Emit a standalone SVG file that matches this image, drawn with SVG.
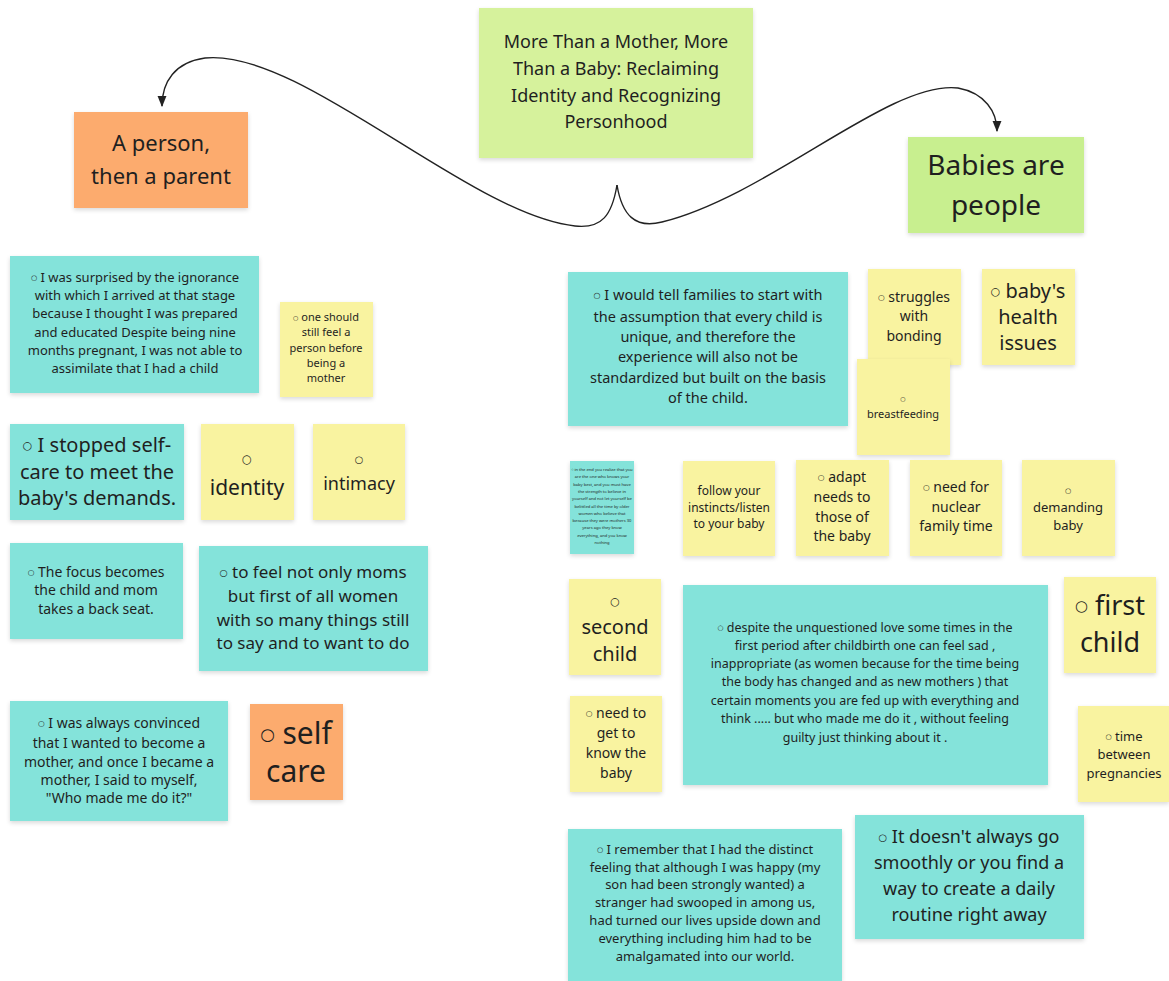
<svg xmlns="http://www.w3.org/2000/svg" width="1169" height="981" viewBox="0 0 1169 981">
<defs>
<filter id="sh" x="-10%" y="-10%" width="120%" height="130%"><feDropShadow dx="0" dy="2" stdDeviation="2" flood-color="#000" flood-opacity="0.15"/></filter>
<marker id="ah" viewBox="0 0 10 10" refX="9" refY="5" markerWidth="8" markerHeight="8" orient="auto-start-reverse"><path d="M0,1 L10,5 L0,9 z" fill="#222"/></marker>
<style>
.n{filter:url(#sh)}
.c{fill:#84e3da}
.y{fill:#f9f3a0}
.o{fill:#fcab6e}
.g{fill:#d6f29c}
.gg{fill:#c8ef8f}
text{font-family:"Noto Sans","Open Sans","DejaVu Sans",sans-serif;fill:#1f1f1f;text-anchor:middle}
.b{font-family:"DejaVu Sans",sans-serif;font-size:0.55em;baseline-shift:0.25em}
.bs{font-family:"DejaVu Sans",sans-serif;font-size:0.55em}
.e{fill:none;stroke:#222;stroke-width:1.4}
</style>
</defs>
<rect width="1169" height="981" fill="#ffffff"/>
<g id="connectors">
<path class="e" d="M617,185 C612,215 602,229 575,226 C470,215 300,48 205,58 C175,62 162,82 162,106" marker-end="url(#ah)"/>
<path class="e" d="M617,185 C622,215 635,229 662,222 C770,195 890,80 958,88 C985,93 997,112 997,131" marker-end="url(#ah)"/>
</g>
<g id="title"><rect class="n g" x="479" y="8" width="274" height="150"/>
<text font-size="18"><tspan x="616" y="48">More Than a Mother, More</tspan><tspan x="616" y="75">Than a Baby: Reclaiming</tspan><tspan x="616" y="102">Identity and Recognizing</tspan><tspan x="616" y="128">Personhood</tspan></text></g>
<g id="person-parent"><rect class="n o" x="74" y="112" width="174" height="96"/>
<text font-size="22"><tspan x="161" y="151">A person,</tspan><tspan x="161" y="184">then a parent</tspan></text></g>
<g id="babies-people"><rect class="n gg" x="908" y="137" width="176" height="96"/>
<text font-size="28"><tspan x="996" y="175">Babies are</tspan><tspan x="996" y="215">people</tspan></text></g>

<g id="n1"><rect class="n c" x="10" y="256" width="249" height="137"/>
<text font-size="13"><tspan x="135" y="282"><tspan class="b">○</tspan> I was surprised by the ignorance</tspan><tspan x="135" y="300">with which I arrived at that stage</tspan><tspan x="135" y="318">because I thought I was prepared</tspan><tspan x="135" y="337">and educated Despite being nine</tspan><tspan x="135" y="355">months pregnant, I was not able to</tspan><tspan x="135" y="373">assimilate that I had a child</tspan></text></g>
<g id="n2"><rect class="n y" x="280" y="302" width="93" height="95"/>
<text font-size="11"><tspan x="326" y="321"><tspan class="b">○</tspan> one should</tspan><tspan x="326" y="336">still feel a</tspan><tspan x="326" y="352">person before</tspan><tspan x="326" y="367">being a</tspan><tspan x="326" y="382">mother</tspan></text></g>
<g id="n3"><rect class="n c" x="10" y="424" width="174" height="96"/>
<text font-size="20"><tspan x="97" y="452"><tspan class="b">○</tspan> I stopped self-</tspan><tspan x="97" y="479">care to meet the</tspan><tspan x="97" y="505">baby's demands.</tspan></text></g>
<g id="n4"><rect class="n y" x="201" y="424" width="93" height="96"/>
<text font-size="21"><tspan x="247" y="463" class="bs">○</tspan><tspan x="247" y="495">identity</tspan></text></g>
<g id="n5"><rect class="n y" x="313" y="424" width="92" height="96"/>
<text font-size="18"><tspan x="359" y="463" class="bs">○</tspan><tspan x="359" y="490">intimacy</tspan></text></g>
<g id="n6"><rect class="n c" x="10" y="543" width="173" height="96"/>
<text font-size="14"><tspan x="96" y="577"><tspan class="b">○</tspan> The focus becomes</tspan><tspan x="96" y="595">the child and mom</tspan><tspan x="96" y="614">takes a back seat.</tspan></text></g>
<g id="n7"><rect class="n c" x="199" y="546" width="229" height="125"/>
<text font-size="17"><tspan x="313" y="578"><tspan class="b">○</tspan> to feel not only moms</tspan><tspan x="313" y="602">but first of all women</tspan><tspan x="313" y="626">with so many things still</tspan><tspan x="313" y="649">to say and to want to do</tspan></text></g>
<g id="n8"><rect class="n c" x="10" y="701" width="218" height="120"/>
<text font-size="14"><tspan x="119" y="728"><tspan class="b">○</tspan> I was always convinced</tspan><tspan x="119" y="748">that I wanted to become a</tspan><tspan x="119" y="767">mother, and once I became a</tspan><tspan x="119" y="785">mother, I said to myself,</tspan><tspan x="119" y="803">"Who made me do it?"</tspan></text></g>
<g id="n9"><rect class="n o" x="250" y="704" width="93" height="96"/>
<text font-size="30"><tspan x="296" y="744"><tspan class="b">○</tspan> self</tspan><tspan x="296" y="782">care</tspan></text></g>

<g id="n10"><rect class="n c" x="568" y="272" width="280" height="154"/>
<text font-size="14.5"><tspan x="708" y="300"><tspan class="b">○</tspan> I would tell families to start with</tspan><tspan x="708" y="322">the assumption that every child is</tspan><tspan x="708" y="342">unique, and therefore the</tspan><tspan x="708" y="362">experience will also not be</tspan><tspan x="708" y="383">standardized but built on the basis</tspan><tspan x="708" y="403">of the child.</tspan></text></g>
<g id="n11"><rect class="n y" x="868" y="269" width="93" height="96"/>
<text font-size="14"><tspan x="914" y="302"><tspan class="b">○</tspan> struggles</tspan><tspan x="914" y="321">with</tspan><tspan x="914" y="341">bonding</tspan></text></g>
<g id="n12"><rect class="n y" x="982" y="269" width="93" height="96"/>
<text font-size="20"><tspan x="1028" y="298"><tspan class="b">○</tspan> baby's</tspan><tspan x="1028" y="324">health</tspan><tspan x="1028" y="350">issues</tspan></text></g>
<g id="n13"><rect class="n y" x="857" y="359" width="93" height="96"/>
<text font-size="11"><tspan x="903" y="401" class="bs">○</tspan><tspan x="903" y="418">breastfeeding</tspan></text></g>
<g id="n14"><rect class="n c" x="570" y="461" width="64" height="93"/>
<text font-size="4.1"><tspan x="602" y="471"><tspan class="b">○</tspan> in the end you realize that you</tspan><tspan x="602" y="478.3">are the one who knows your</tspan><tspan x="602" y="485.6">baby best, and you must have</tspan><tspan x="602" y="492.9">the strength to believe in</tspan><tspan x="602" y="500.2">yourself and not let yourself be</tspan><tspan x="602" y="507.5">belittled all the time by older</tspan><tspan x="602" y="514.8">women who believe that</tspan><tspan x="602" y="522.1">because they were mothers 30</tspan><tspan x="602" y="529.4">years ago they know</tspan><tspan x="602" y="536.7">everything, and you know</tspan><tspan x="602" y="544">nothing</tspan></text></g>
<g id="n15"><rect class="n y" x="683" y="461" width="92" height="95"/>
<text font-size="12"><tspan x="729" y="495">follow your</tspan><tspan x="729" y="512">instincts/listen</tspan><tspan x="729" y="528">to your baby</tspan></text></g>
<g id="n16"><rect class="n y" x="796" y="460" width="93" height="96"/>
<text font-size="14"><tspan x="842" y="482"><tspan class="b">○</tspan> adapt</tspan><tspan x="842" y="502">needs to</tspan><tspan x="842" y="522">those of</tspan><tspan x="842" y="541">the baby</tspan></text></g>
<g id="n17"><rect class="n y" x="910" y="460" width="92" height="96"/>
<text font-size="14"><tspan x="956" y="492"><tspan class="b">○</tspan> need for</tspan><tspan x="956" y="512">nuclear</tspan><tspan x="956" y="531">family time</tspan></text></g>
<g id="n18"><rect class="n y" x="1022" y="460" width="93" height="96"/>
<text font-size="13"><tspan x="1068" y="493" class="bs">○</tspan><tspan x="1068" y="512">demanding</tspan><tspan x="1068" y="530">baby</tspan></text></g>
<g id="n19"><rect class="n y" x="569" y="579" width="92" height="96"/>
<text font-size="20"><tspan x="615" y="605" class="bs">○</tspan><tspan x="615" y="634">second</tspan><tspan x="615" y="661">child</tspan></text></g>
<g id="n20"><rect class="n c" x="683" y="585" width="365" height="200"/>
<text font-size="12.5"><tspan x="865" y="632"><tspan class="b">○</tspan> despite the unquestioned love some times in the</tspan><tspan x="865" y="650">first period after childbirth one can feel sad ,</tspan><tspan x="865" y="668">inappropriate (as women because for the time being</tspan><tspan x="865" y="686">the body has changed and as new mothers ) that</tspan><tspan x="865" y="705">certain moments you are fed up with everything and</tspan><tspan x="865" y="723">think ..... but who made me do it , without feeling</tspan><tspan x="865" y="742">guilty just thinking about it .</tspan></text></g>
<g id="n21"><rect class="n y" x="1064" y="577" width="92" height="96"/>
<text font-size="27"><tspan x="1110" y="615"><tspan class="b">○</tspan> first</tspan><tspan x="1110" y="652">child</tspan></text></g>
<g id="n22"><rect class="n y" x="570" y="696" width="92" height="96"/>
<text font-size="14"><tspan x="616" y="718"><tspan class="b">○</tspan> need to</tspan><tspan x="616" y="738">get to</tspan><tspan x="616" y="758">know the</tspan><tspan x="616" y="778">baby</tspan></text></g>
<g id="n23"><rect class="n y" x="1078" y="706" width="91" height="96"/>
<text font-size="13"><tspan x="1124" y="741"><tspan class="b">○</tspan> time</tspan><tspan x="1124" y="759">between</tspan><tspan x="1124" y="778">pregnancies</tspan></text></g>
<g id="n24"><rect class="n c" x="568" y="829" width="274" height="152"/>
<text font-size="13"><tspan x="705" y="854"><tspan class="b">○</tspan> I remember that I had the distinct</tspan><tspan x="705" y="872">feeling that although I was happy (my</tspan><tspan x="705" y="889">son had been strongly wanted) a</tspan><tspan x="705" y="907">stranger had swooped in among us,</tspan><tspan x="705" y="925">had turned our lives upside down and</tspan><tspan x="705" y="943">everything including him had to be</tspan><tspan x="705" y="961">amalgamated into our world.</tspan></text></g>
<g id="n25"><rect class="n c" x="855" y="815" width="229" height="124"/>
<text font-size="18"><tspan x="969" y="843"><tspan class="b">○</tspan> It doesn't always go</tspan><tspan x="969" y="869">smoothly or you find a</tspan><tspan x="969" y="895">way to create a daily</tspan><tspan x="969" y="921">routine right away</tspan></text></g>
</svg>
